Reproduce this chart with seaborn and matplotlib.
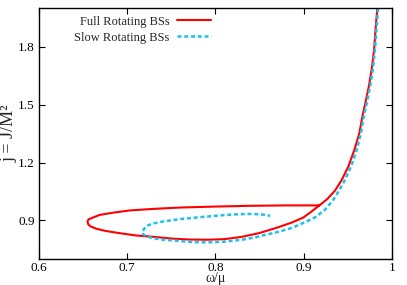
import matplotlib
matplotlib.use("Agg")
import matplotlib.pyplot as plt
import seaborn as sns
import pandas as pd

# full rotating boson stars: steep branch down, lower branch, turn, upper branch
full_omega = [0.9834, 0.9815, 0.9800, 0.9775, 0.9740, 0.9694, 0.9664, 0.9630, 0.9573,
              0.9505, 0.9430, 0.9355, 0.9265, 0.9176, 0.9085, 0.8995, 0.8870, 0.8700,
              0.8500, 0.8300, 0.8100, 0.7900, 0.7700, 0.7500, 0.7300, 0.7100, 0.6900,
              0.6750, 0.6650, 0.6580, 0.6555, 0.6550, 0.6560, 0.6600, 0.6690, 0.6850,
              0.7030, 0.7300, 0.7600, 0.8000, 0.8400, 0.8800, 0.9176]
full_j = [2.000, 1.900, 1.800, 1.700, 1.600, 1.500, 1.438, 1.352, 1.265,
          1.179, 1.110, 1.055, 1.010, 0.978, 0.945, 0.915, 0.890, 0.863,
          0.835, 0.815, 0.803, 0.800, 0.801, 0.806, 0.815, 0.822, 0.835,
          0.846, 0.857, 0.870, 0.882, 0.895, 0.905, 0.913, 0.929, 0.941,
          0.952, 0.960, 0.967, 0.972, 0.976, 0.978, 0.978]

# slow rotating boson stars
slow_omega = [0.9843, 0.9825, 0.9810, 0.9788, 0.9755, 0.9710, 0.9680, 0.9648, 0.9600,
              0.9535, 0.9467, 0.9400, 0.9335, 0.9240, 0.9125, 0.8995, 0.8870, 0.8750,
              0.8670, 0.8550, 0.8450, 0.8300, 0.8100, 0.7900, 0.7700, 0.7550, 0.7410,
              0.7300, 0.7220, 0.7180, 0.7170, 0.7190, 0.7220, 0.7300, 0.7410, 0.7600,
              0.7800, 0.8000, 0.8200, 0.8400, 0.8550, 0.8620]
slow_j = [2.000, 1.900, 1.800, 1.700, 1.600, 1.500, 1.438, 1.352, 1.265,
          1.179, 1.110, 1.055, 1.007, 0.955, 0.915, 0.887, 0.862, 0.846,
          0.836, 0.824, 0.812, 0.800, 0.790, 0.786, 0.789, 0.795, 0.800,
          0.807, 0.817, 0.828, 0.840, 0.856, 0.872, 0.885, 0.895, 0.907,
          0.916, 0.924, 0.931, 0.934, 0.930, 0.924]

x_ticks = [0.6, 0.7, 0.8, 0.9, 1.0]
x_tick_labels = ["0.6", "0.7", "0.8", "0.9", "1"]
y_ticks = [0.9, 1.2, 1.5, 1.8]
y_tick_labels = ["0.9", "1.2", "1.5", "1.8"]

df_full = pd.DataFrame({"omega": full_omega, "j": full_j})
df_slow = pd.DataFrame({"omega": slow_omega, "j": slow_j})

sns.set_style("ticks")
plt.rcParams['font.family'] = ['Liberation Serif', 'DejaVu Serif']

fig = plt.figure(figsize=(4.07, 2.85), dpi=100)
ax = fig.add_axes([0.0958, 0.0912, 0.8673, 0.8795])

sns.lineplot(data=df_full, x="omega", y="j", sort=False, estimator=None,
             color="#ff0000", lw=1.5, label="Full Rotating BSs", ax=ax)
sns.lineplot(data=df_slow, x="omega", y="j", sort=False, estimator=None,
             color="#1ec0ef", lw=1.8, dashes=(1.6, 1.1), label="Slow Rotating BSs", ax=ax)

ax.set_xlim(0.6, 1.0)
ax.set_ylim(0.7, 2.0)
ax.set_xticks(x_ticks)
ax.set_xticklabels(x_tick_labels)
ax.set_yticks(y_ticks)
ax.set_yticklabels(y_tick_labels)
ax.tick_params(direction="in", top=True, right=True, length=4, width=0.8,
               labelsize=9.5, colors="black", pad=3)
ax.tick_params(axis="x", pad=2)
for s in ax.spines.values():
    s.set_linewidth(1.0)
    s.set_color("black")

ax.set_xlabel("ω/μ", fontsize=10)
ax.xaxis.set_label_coords(0.5, -0.053)
ax.set_ylabel("j = J/M²", fontsize=13)
ax.yaxis.set_label_coords(-0.062, 0.5)

ax.legend(loc="upper right", bbox_to_anchor=(0.487, 0.97), markerfirst=False,
          frameon=False, fontsize=9, handlelength=2.7, handletextpad=0.6,
          labelspacing=0.3, borderpad=0, borderaxespad=0)

fig.savefig("out.png", dpi=100)
